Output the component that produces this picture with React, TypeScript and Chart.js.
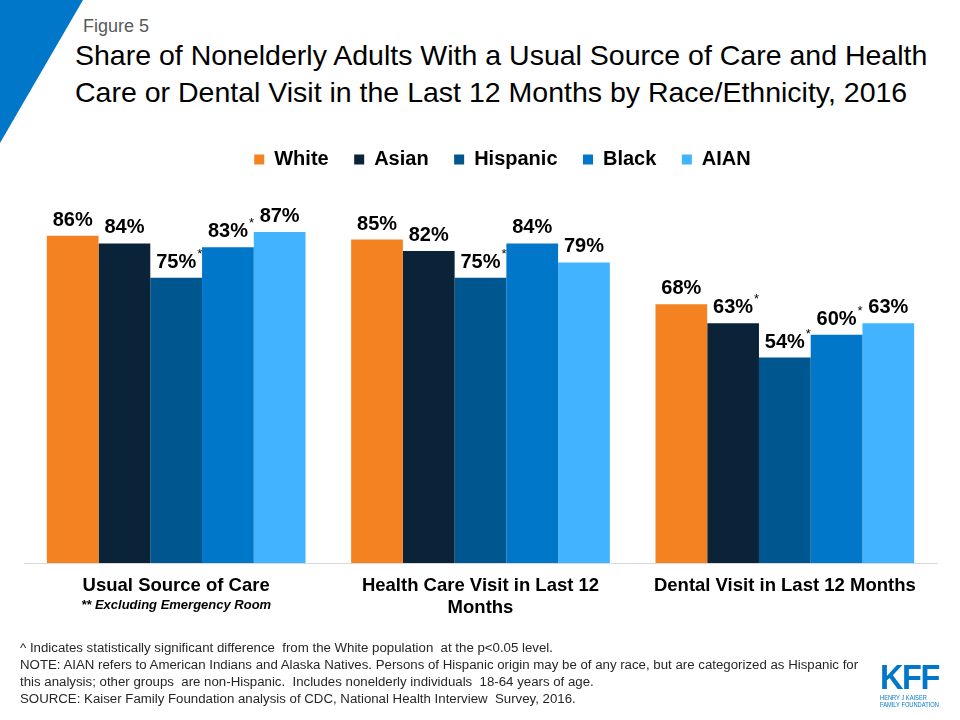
import React, { useEffect, useRef } from "react";
import { Chart, registerables } from "chart.js";

Chart.register(...registerables);

const categories: string[][] = [
  ["Usual Source of Care"],
  ["Health Care Visit in Last 12", "Months"],
  ["Dental Visit in Last 12 Months"],
];
const seriesNames = ["White", "Asian", "Hispanic", "Black", "AIAN"];
const white = [86, 85, 68];
const asian = [84, 82, 63];
const hispanic = [75, 75, 54];
const black = [83, 84, 60];
const aian = [87, 79, 63];
const whiteSig = [false, false, false];
const asianSig = [false, false, true];
const hispanicSig = [true, true, true];
const blackSig = [true, false, true];
const aianSig = [false, false, false];
const colors = ["#F58220", "#0B2339", "#00568F", "#0077C8", "#42B4FF"];
const subLabel = "** Excluding Emergency Room";

const FONT = '"Liberation Sans", Arial, Helvetica, sans-serif';

const footnotes = [
  "^ Indicates statistically significant difference  from the White population  at the p<0.05 level.",
  "NOTE: AIAN refers to American Indians and Alaska Natives. Persons of Hispanic origin may be of any race, but are categorized as Hispanic for",
  "this analysis; other groups  are non-Hispanic.  Includes nonelderly individuals  18-64 years of age.",
  "SOURCE: Kaiser Family Foundation analysis of CDC, National Health Interview  Survey, 2016.",
];

const legendShift = {
  id: "legendShift",
  afterLayout(chart: any) {
    if (chart.legend) {
      chart.legend.left += 22;
      chart.legend.right += 22;
    }
  },
};

const labelPlugin = {
  id: "barLabels",
  afterDatasetsDraw(chart: any) {
    const ctx = chart.ctx;
    ctx.save();
    chart.data.datasets.forEach((ds: any, di: number) => {
      const meta = chart.getDatasetMeta(di);
      meta.data.forEach((bar: any, i: number) => {
        const v = ds.data[i];
        const txt = `${v}%`;
        ctx.font = `bold 20px ${FONT}`;
        ctx.fillStyle = "#000";
        ctx.textAlign = "center";
        ctx.textBaseline = "alphabetic";
        const by = bar.y - 10;
        ctx.fillText(txt, bar.x, by);
        if (ds.sig[i]) {
          const w = ctx.measureText(txt).width;
          ctx.font = `13px ${FONT}`;
          ctx.textAlign = "left";
          ctx.fillText("*", bar.x + w / 2 + 1, by - 10);
        }
      });
    });
    const xs = chart.scales.x;
    ctx.font = `italic bold 13px ${FONT}`;
    ctx.fillStyle = "#000";
    ctx.textAlign = "center";
    ctx.textBaseline = "middle";
    ctx.fillText(subLabel, xs.getPixelForValue(0), chart.chartArea.bottom + 42);
    ctx.restore();
  },
};

export default function App() {
  const ref = useRef<HTMLCanvasElement>(null);
  useEffect(() => {
    const series = [white, asian, hispanic, black, aian];
    const sigs = [whiteSig, asianSig, hispanicSig, blackSig, aianSig];
    const chart = new Chart(ref.current!, {
      type: "bar",
      data: {
        labels: categories as any,
        datasets: series.map((d, i) => ({
          label: seriesNames[i],
          data: d,
          backgroundColor: colors[i],
          borderWidth: 0,
          categoryPercentage: 0.85,
          barPercentage: 1,
          sig: sigs[i],
        })) as any,
      },
      options: {
        animation: false,
        responsive: false,
        maintainAspectRatio: false,
        layout: { padding: { top: 124, left: 24, right: 23, bottom: 97 } },
        plugins: {
          legend: {
            position: "top",
            labels: {
              boxWidth: 10,
              boxHeight: 10,
              padding: 25.5,
              color: "#000",
              font: { family: FONT, size: 20, weight: "bold" },
            },
          },
          tooltip: { enabled: false },
        },
        scales: {
          x: {
            grid: { display: false, drawTicks: false },
            border: { display: true, color: "#D9D9D9", width: 1 },
            ticks: {
              color: "#000",
              padding: 12,
              maxRotation: 0,
              autoSkip: false,
              font: { family: FONT, size: 18.5, weight: "bold" },
            },
            afterFit(scale: any) {
              scale.height = 60;
            },
          },
          y: {
            display: false,
            min: 0,
            max: 100.8,
          },
        },
      } as any,
      plugins: [legendShift, labelPlugin],
    });
    return () => chart.destroy();
  }, []);

  return (
    <div
      style={{
        position: "absolute",
        left: 0,
        top: 0,
        width: 960,
        height: 720,
        background: "#fff",
        overflow: "hidden",
        fontFamily: FONT,
      }}
    >
      <div
        style={{
          position: "absolute",
          left: 0,
          top: 0,
          width: 83,
          height: 143,
          background: "#0077C8",
          clipPath: "polygon(0 0, 100% 0, 0 100%)",
        }}
      />
      <div
        style={{
          position: "absolute",
          left: 83,
          top: 17,
          fontSize: 18,
          lineHeight: "18px",
          color: "#595959",
        }}
      >
        Figure 5
      </div>
      <div
        style={{
          position: "absolute",
          left: 75,
          top: 37,
          fontSize: 28.5,
          lineHeight: "37px",
          color: "#000",
          whiteSpace: "nowrap",
        }}
      >
        Share of Nonelderly Adults With a Usual Source of Care and Health
        <br />
        Care or Dental Visit in the Last 12 Months by Race/Ethnicity, 2016
      </div>
      <canvas
        ref={ref}
        width={960}
        height={720}
        style={{ position: "absolute", left: 0, top: 0, width: 960, height: 720 }}
      />
      <div
        style={{
          position: "absolute",
          left: 20,
          top: 639,
          fontSize: 13.25,
          lineHeight: "17px",
          color: "#262626",
          whiteSpace: "pre",
        }}
      >
        {footnotes.map((t, i) => (
          <div key={i}>{t}</div>
        ))}
      </div>
      <div style={{ position: "absolute", left: 880, top: 659, width: 70, color: "#0077C8" }}>
        <div
          style={{
            fontSize: 35,
            fontWeight: "bold",
            lineHeight: "35px",
            letterSpacing: -1.5,
            transform: "scaleX(0.93)",
            transformOrigin: "left top",
            whiteSpace: "nowrap",
          }}
        >
          KFF
        </div>
        <div
          style={{
            transform: "scaleX(0.88)",
            transformOrigin: "left top",
            marginTop: 0,
            fontSize: 6.5,
            lineHeight: "7px",
            whiteSpace: "nowrap",
          }}
        >
          <div>HENRY J KAISER</div>
          <div>FAMILY FOUNDATION</div>
        </div>
      </div>
    </div>
  );
}
